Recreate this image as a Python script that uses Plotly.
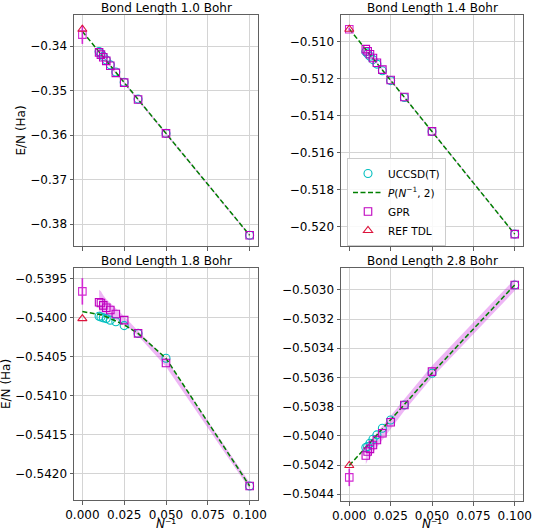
import plotly.graph_objects as go

# ---------------- data ----------------
inv_n = [0.01, 0.0111, 0.0125, 0.0143, 0.0167, 0.02, 0.025, 0.0333, 0.05, 0.1]
fit_x = [0.0, 0.01, 0.0111, 0.0125, 0.0143, 0.0167, 0.02, 0.025, 0.0333, 0.05, 0.1]
x_ticks = [0.0, 0.025, 0.05, 0.075, 0.1]

titles = ["Bond Length 1.0 Bohr", "Bond Length 1.4 Bohr", "Bond Length 1.8 Bohr", "Bond Length 2.8 Bohr"]

# 1.0 Bohr
uccsd_10 = [-0.3412, -0.3417, -0.3423, -0.3431, -0.3442, -0.3458, -0.3481, -0.3519, -0.3596, -0.3825]
gpr_10 = [-0.3414, -0.3419, -0.3425, -0.3433, -0.3444, -0.3460, -0.3482, -0.3520, -0.3596, -0.3825]
std_10 = [0.0003, 0.0003, 0.0003, 0.0003, 0.0002, 0.0002, 0.0002, 0.0002, 0.0002, 0.0002]
fit_10 = [-0.3367, -0.3413, -0.3418, -0.3424, -0.3432, -0.3443, -0.3459, -0.3482, -0.3520, -0.3596, -0.3825]
gpr0_10, gpr0err_10, tdl_10 = -0.3374, 0.0021, -0.3362

# 1.4 Bohr
uccsd_14 = [-0.51055, -0.51066, -0.51080, -0.51098, -0.51122, -0.51158, -0.51211, -0.51302, -0.51486, -0.52040]
gpr_14 = [-0.51041, -0.51053, -0.51069, -0.51089, -0.51115, -0.51152, -0.51208, -0.51300, -0.51485, -0.52040]
std_14 = [0.00006, 0.00006, 0.00005, 0.00005, 0.00005, 0.00004, 0.00004, 0.00004, 0.00004, 0.00004]
fit_14 = [-0.50932, -0.51045, -0.51057, -0.51072, -0.51092, -0.51118, -0.51155, -0.51210, -0.51301, -0.51485, -0.52040]
gpr0_14, gpr0err_14, tdl_14 = -0.50934, 0.00008, -0.50934

# 1.8 Bohr
uccsd_18 = [-0.53998, -0.53999, -0.54000, -0.54001, -0.54003, -0.54005, -0.54010, -0.54020, -0.54052, -0.54216]
gpr_18 = [-0.53980, -0.53981, -0.53984, -0.53987, -0.53990, -0.53995, -0.54003, -0.54020, -0.54058, -0.54216]
std_18 = [0.00016, 0.00015, 0.00013, 0.00011, 0.00009, 0.00007, 0.00005, 0.00003, 0.00005, 0.00004]
fit_18 = [-0.53992, -0.53995, -0.53996, -0.53997, -0.53999, -0.54001, -0.54004, -0.54009, -0.54020, -0.54052, -0.54216]
gpr0_18, gpr0err_18, tdl_18 = -0.53966, 0.00017, -0.54001

# 2.8 Bohr
uccsd_28 = [-0.504080, -0.504073, -0.504050, -0.504023, -0.503993, -0.503948, -0.503891, -0.503788, -0.503571, -0.502966]
gpr_28 = [-0.504134, -0.504107, -0.504089, -0.504062, -0.504028, -0.503982, -0.503907, -0.503788, -0.503560, -0.502966]
std_28 = [0.00006, 0.00006, 0.00006, 0.00005, 0.00005, 0.00005, 0.00005, 0.00004, 0.00004, 0.00004]
fit_28 = [-0.504203, -0.504079, -0.504066, -0.504048, -0.504026, -0.503997, -0.503956, -0.503894, -0.503785, -0.503570, -0.502966]
gpr0_28, gpr0err_28, tdl_28 = -0.504284, 0.00006, -0.504203

panels = [
    (uccsd_10, gpr_10, std_10, fit_10, gpr0_10, gpr0err_10, tdl_10),
    (uccsd_14, gpr_14, std_14, fit_14, gpr0_14, gpr0err_14, tdl_14),
    (uccsd_18, gpr_18, std_18, fit_18, gpr0_18, gpr0err_18, tdl_18),
    (uccsd_28, gpr_28, std_28, fit_28, gpr0_28, gpr0err_28, tdl_28),
]

y_ranges = [[-0.3849, -0.3330], [-0.52104, -0.50857], [-0.54234, -0.53936], [-0.504446, -0.50285]]
y_ticks = [
    [-0.38, -0.37, -0.36, -0.35, -0.34],
    [-0.520, -0.518, -0.516, -0.514, -0.512, -0.510],
    [-0.5420, -0.5415, -0.5410, -0.5405, -0.5400, -0.5395],
    [-0.5044, -0.5042, -0.5040, -0.5038, -0.5036, -0.5034, -0.5032, -0.5030],
]
y_fmt = [".2f", ".3f", ".4f", ".4f"]

# ---------------- styling ----------------
W, H = 534, 531
C_UCC = "rgb(0,191,191)"
C_GPR = "rgb(191,0,191)"
C_ERR = "rgb(210,40,210)"
C_BAND = "rgba(205,40,225,0.34)"
C_FIT = "#008000"
C_TDL = "crimson"
FONT = "DejaVu Sans"

# pixel boxes (left, right, top, bottom)
boxes = [(74, 258, 15, 246), (341, 523, 15, 246), (74, 258, 268, 500), (341, 523, 268, 501)]
ytitle_x = [20, None, 6, None]

fig = go.Figure()
layout = {}
annotations = []
for i, (box, data) in enumerate(zip(boxes, panels)):
    uccsd, gpr, std, fit, g0, g0e, tdl = data
    k = "" if i == 0 else str(i + 1)
    xa, ya = "x" + k, "y" + k
    show = (i == 1)
    upper = [g + s for g, s in zip(gpr, std)]
    lower = [g - s for g, s in zip(gpr, std)]
    fig.add_trace(go.Scatter(x=inv_n + inv_n[::-1], y=upper + lower[::-1], fill="toself",
                             fillcolor=C_BAND, line=dict(width=0), mode="lines",
                             showlegend=False, hoverinfo="skip", xaxis=xa, yaxis=ya))
    fig.add_trace(go.Scatter(x=inv_n, y=uccsd, mode="markers", name="UCCSD(T)",
                             marker=dict(symbol="circle-open", size=8, color=C_UCC, line=dict(width=1.1)),
                             showlegend=show, legendrank=1, xaxis=xa, yaxis=ya))
    fig.add_trace(go.Scatter(x=fit_x, y=fit, mode="lines", name="<i>P</i>(<i>N</i><sup>−1</sup>, 2)",
                             line=dict(color=C_FIT, width=1.5, dash="5px,2.5px"),
                             showlegend=show, legendrank=2, xaxis=xa, yaxis=ya))
    fig.add_trace(go.Scatter(x=inv_n, y=gpr, mode="markers", name="GPR",
                             marker=dict(symbol="square-open", size=7.5, color=C_GPR, line=dict(width=1.1)),
                             showlegend=show, legendrank=3, xaxis=xa, yaxis=ya))
    fig.add_trace(go.Scatter(x=[0.0], y=[g0], mode="markers",
                             marker=dict(symbol="square-open", size=7.5, color=C_ERR, line=dict(width=1.1)),
                             error_y=dict(type="data", array=[g0e], color=C_ERR, thickness=1.6, width=0),
                             showlegend=False, xaxis=xa, yaxis=ya))
    fig.add_trace(go.Scatter(x=[0.0], y=[tdl], mode="markers", name="REF TDL",
                             marker=dict(symbol="triangle-up-open", size=8, color=C_TDL, line=dict(width=1.1)),
                             showlegend=show, legendrank=4, xaxis=xa, yaxis=ya))

    l, r, t, b = box
    axis_common = dict(showline=True, mirror=True, linecolor="#606060", linewidth=1,
                       ticks="outside", ticklen=3.5, tickcolor="#606060", tickwidth=1,
                       showgrid=True, gridcolor="#d4d4d4", gridwidth=1, zeroline=False,
                       automargin=False,
                       tickfont=dict(family=FONT, size=12, color="black"))
    layout["xaxis" + k] = dict(axis_common, domain=[l / W, r / W], anchor=ya, range=[-0.005, 0.105],
                               tickvals=x_ticks, tickformat=".3f", showticklabels=(i >= 2))
    layout["yaxis" + k] = dict(axis_common, domain=[1 - b / H, 1 - t / H], anchor=xa, range=y_ranges[i],
                               tickvals=y_ticks[i], tickformat=y_fmt[i])

    # panel title
    annotations.append(dict(text=titles[i], x=(l + r) / 2 / W, y=1 - (t - 7) / H, xref="paper", yref="paper",
                            xanchor="center", yanchor="middle", showarrow=False,
                            font=dict(family=FONT, size=12, color="black")))
    # x-axis title (bottom row)
    if i >= 2:
        annotations.append(dict(text="<i>N</i>⁻¹", x=(l + r) / 2 / W, y=1 - 523.5 / H,
                                xref="paper", yref="paper", xanchor="center", yanchor="middle",
                                showarrow=False, font=dict(family=FONT, size=12, color="black")))
    # y-axis title (left column)
    if ytitle_x[i] is not None:
        annotations.append(dict(text="E/N (Ha)", x=ytitle_x[i] / W, y=1 - (t + b) / 2 / H,
                                xref="paper", yref="paper", xanchor="center", yanchor="middle",
                                textangle=-90, showarrow=False,
                                font=dict(family=FONT, size=12, color="black")))

fig.update_layout(
    width=W, height=H,
    margin=dict(l=0, r=0, t=0, b=0, autoexpand=False),
    paper_bgcolor="white", plot_bgcolor="white",
    font=dict(family=FONT, size=12, color="black"),
    annotations=annotations,
    legend=dict(x=347 / W, y=1 - 158 / H, xanchor="left", yanchor="top",
                bgcolor="rgba(255,255,255,0.85)", bordercolor="#cccccc", borderwidth=1,
                font=dict(family=FONT, size=10.5, color="black"), tracegroupgap=0,
                itemwidth=30),
    showlegend=True,
    **layout,
)

fig.write_html("out.html", config={"displayModeBar": False},
               post_script="document.body.style.margin='0';document.body.style.padding='0';"
                           "document.documentElement.style.overflow='hidden';")
